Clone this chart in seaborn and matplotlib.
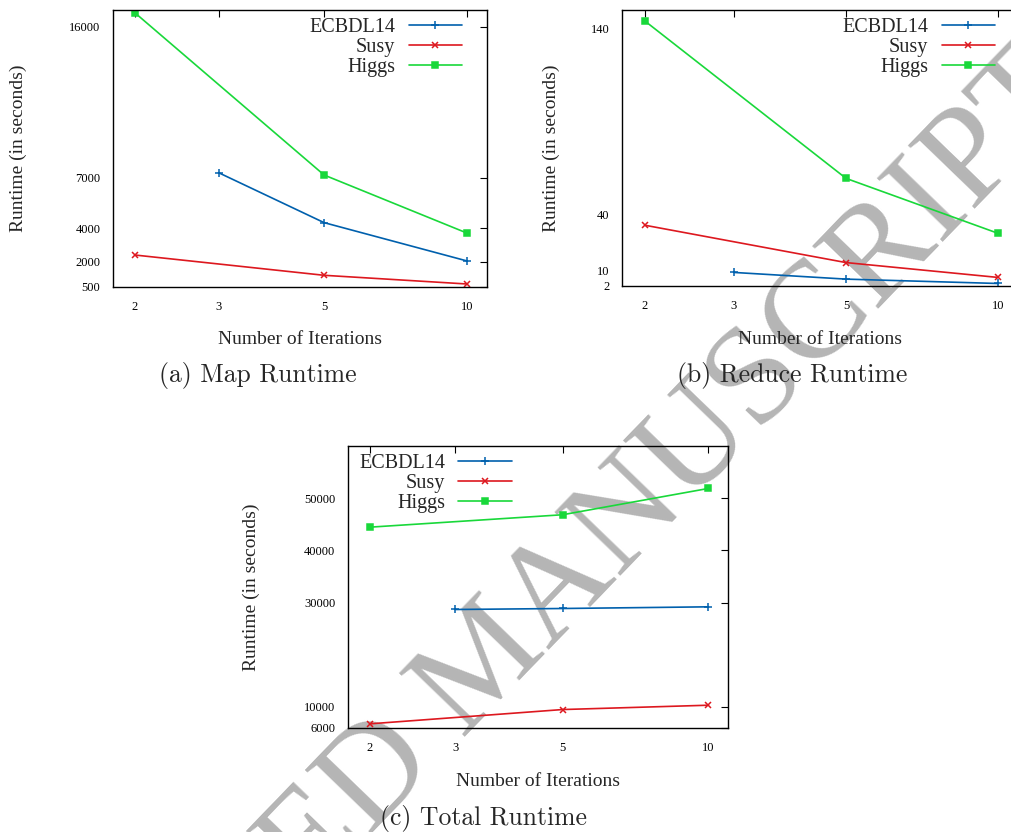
import numpy as np
import pandas as pd
import matplotlib.pyplot as plt
import seaborn as sns
from matplotlib.ticker import NullLocator

# Data
datasets = ['ECBDL14', 'Susy', 'Higgs']
iters = {'ECBDL14': [3, 5, 10], 'Susy': [2, 5, 10], 'Higgs': [2, 5, 10]}

map_ecbdl = [7300, 4320, 2030]
map_susy = [2390, 1180, 660]
map_higgs = [16840, 7160, 3690]

reduce_ecbdl = [8.8, 5.2, 2.85]
reduce_susy = [34.2, 14.1, 6.1]
reduce_higgs = [144.1, 59.4, 29.8]

total_ecbdl = [28660, 28850, 29170]
total_susy = [6740, 9480, 10310]
total_higgs = [44440, 46820, 51860]

x_ticks = [2, 3, 5, 10]
map_yticks = [500, 2000, 4000, 7000, 16000]
reduce_yticks = [2, 10, 40, 140]
total_yticks = [6000, 10000, 30000, 40000, 50000]

colors = {'ECBDL14': '#0060ad', 'Susy': '#dd181f', 'Higgs': '#19d83a'}
markers = {'ECBDL14': '+', 'Susy': 'x', 'Higgs': 's'}
msizes = {'ECBDL14': 5.5, 'Susy': 5, 'Higgs': 4}

sns.set_theme(style='white')
plt.rcParams['font.family'] = ['Liberation Serif', 'DejaVu Serif']

W, H = 1012, 832
fig = plt.figure(figsize=(W / 100, H / 100), dpi=100)


def px_axes(left, right, top, bottom):
    return fig.add_axes([left / W, 1 - bottom / H, (right - left) / W, (bottom - top) / H])


def draw_panel(ax, values, yticks, ylim, leg_loc, leg_anchor):
    for name, vals in zip(datasets, values):
        sns.lineplot(x=iters[name], y=vals, ax=ax, color=colors[name],
                     marker=markers[name], markersize=msizes[name],
                     markeredgecolor=colors[name], markeredgewidth=1.1,
                     linewidth=1.2, label=name)
    ax.set_facecolor('none')
    ax.set_xscale('log')
    ax.set_xlim(1.8, 11)
    ax.set_xticks(x_ticks)
    ax.set_xticklabels([str(t) for t in x_ticks])
    ax.xaxis.set_minor_locator(NullLocator())
    ax.set_ylim(*ylim)
    ax.set_yticks(yticks)
    ax.set_yticklabels([str(t) for t in yticks])
    ax.set_xlabel('')
    ax.set_ylabel('')
    ax.tick_params(which='both', direction='in', top=True, right=True, length=5,
                   width=0.8, labelsize=9, color='black', labelcolor='black')
    ax.tick_params(axis='y', pad=9)
    ax.tick_params(axis='x', pad=10)
    for sp in ax.spines.values():
        sp.set_color('black')
        sp.set_linewidth(1.0)
    ax.legend(loc=leg_loc, bbox_to_anchor=leg_anchor, frameon=False, markerfirst=False,
              fontsize=14.5, handlelength=2.65, handletextpad=0.65, labelspacing=0.05,
              borderpad=0, borderaxespad=0)


ax_a = px_axes(113, 487, 10, 286.7)
draw_panel(ax_a, [map_ecbdl, map_susy, map_higgs], map_yticks, (500, 17000),
           'upper right', (0.933, 0.972))

ax_b = px_axes(621.7, 1019.2, 10, 286)
draw_panel(ax_b, [reduce_ecbdl, reduce_susy, reduce_higgs], reduce_yticks, (1.5, 150),
           'upper right', (0.939, 0.972))

ax_c = px_axes(347.7, 728.3, 446, 727.7)
draw_panel(ax_c, [total_ecbdl, total_susy, total_higgs], total_yticks, (6000, 60000),
           'upper left', (0.030, 0.972))


def ftext(x, y, s, **kw):
    fig.text(x / W, 1 - y / H, s, ha='center', va='center', **kw)


ylab = 'Runtime (in seconds)'
xlab = 'Number of Iterations'
ftext(18.5, 148, ylab, rotation=90, fontsize=14)
ftext(551.5, 148, ylab, rotation=90, fontsize=14)
ftext(251.5, 587, ylab, rotation=90, fontsize=14)
ftext(300, 339, xlab, fontsize=14)
ftext(820, 339, xlab, fontsize=14)
ftext(538, 782, xlab, fontsize=14)

ftext(258, 376, '(a) Map Runtime', fontsize=18.5, family='cmr10')
ftext(792, 376, '(b) Reduce Runtime', fontsize=18.5, family='cmr10')
ftext(484, 819, '(c) Total Runtime', fontsize=18.5, family='cmr10')

# watermark behind the plots
fig.text(488 / W, 1 - 665 / H, 'ACCEPTED MANUSCRIPT', rotation=46, fontsize=100,
         color='#b5b5b5', ha='center', va='center', zorder=-1,
         family='Liberation Serif')

fig.savefig('out.png', dpi=100)
